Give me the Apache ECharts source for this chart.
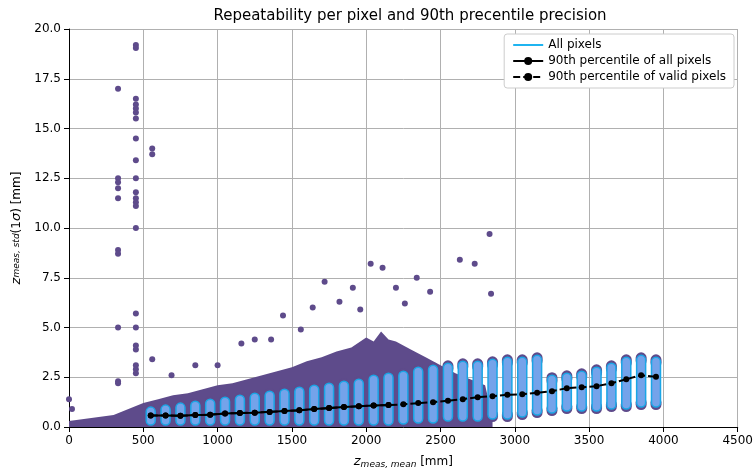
<!DOCTYPE html>
<html><head><meta charset="utf-8">
<script src="https://cdn.jsdelivr.net/npm/echarts@6/dist/echarts.min.js"></script>
<style>html,body{margin:0;background:#fff}#c{width:756px;height:474px}</style>
</head><body><div id="c"></div>
<script>
// 90th percentile curves
var pctX = [550,650,750,850,950,1050,1150,1250,1350,1450,1550,1650,1750,1850,1950,2050,2150,2250,2350,2450,2550,2650,2750,2850,2950,3050,3150,3250,3350,3450,3550,3650,3750,3850,3950];
var pctAll = [0.58,0.58,0.56,0.6,0.62,0.68,0.7,0.72,0.76,0.8,0.84,0.9,0.95,1.0,1.04,1.08,1.1,1.14,1.2,1.25,1.32,1.4,1.5,1.55,1.62,1.65,1.72,1.8,1.95,2.0,2.05,2.2,2.4,2.6,2.52];
var pctValid = pctAll;
// per-pixel columns (range of z std at each distance step)
var colLow  = [0.1,0.1,0.1,0.1,0.1,0.1,0.1,0.1,0.1,0.1,0.1,0.1,0.1,0.1,0.1,0.1,0.1,0.15,0.2,0.2,0.3,0.3,0.3,0.4,0.4,0.5,0.6,0.7,0.8,0.8,0.8,0.9,0.9,1.0,1.0];
var colHigh = [1.0,1.1,1.2,1.3,1.4,1.5,1.6,1.7,1.8,1.9,2.0,2.1,2.2,2.3,2.4,2.6,2.7,2.8,3.0,3.1,3.2,3.3,3.3,3.4,3.5,3.5,3.6,2.6,2.7,2.8,3.0,3.2,3.5,3.6,3.5];
// dense cloud upper envelope
var cloudX = [0,100,200,300,400,500,600,700,800,900,1000,1100,1200,1300,1400,1500,1600,1700,1800,1900,2000,2050,2100,2150,2200,2300,2400,2500,2600,2700,2800,2850];
var cloudY = [0.3,0.4,0.5,0.6,0.9,1.2,1.4,1.6,1.7,1.9,2.1,2.2,2.4,2.6,2.8,3.0,3.3,3.5,3.8,4.0,4.5,4.3,4.8,4.4,4.3,3.9,3.5,3.1,2.7,2.4,2.1,0.5];
// outlier pixels
var outX = [330,330,330,330,330,330,330,330,330,330,450,450,450,450,450,450,450,450,450,450,450,450,450,450,450,450,450,450,450,450,450,450,560,560,560,2030,2110,2830,2630,2730,2840,1720,1910,2200,2340,2430,1820,1640,1440,1000,850,690,1250,1160,1360,0,20,1560,1960,2260];
var outY = [17,12.5,12.3,12,11.5,8.9,8.7,5,2.3,2.2,19.2,19.05,16.5,16.2,16,15.8,15.5,14.5,13.4,12.5,11.8,11.5,11.3,11.1,10,5.7,5,4.1,3.9,3.1,2.9,2.7,14,13.7,3.4,8.2,8.0,9.7,8.4,8.2,6.7,7.3,7.0,7.0,7.5,6.8,6.3,6.0,5.6,3.1,3.1,2.6,4.4,4.2,4.4,1.4,0.9,4.9,5.9,6.2];

var purple = '#5e4b8b';
var chart = echarts.init(document.getElementById('c'));
var cols = pctX.map(function (x, k) { return [x, colLow[k], colHigh[k]]; });
var outs = outX.map(function (x, k) { return [x, outY[k]]; });
var cloud = cloudX.map(function (x, k) { return [x, cloudY[k]]; });

function drawCol(params, api) {
  var lo = api.coord([api.value(0), api.value(1)]);
  var hi = api.coord([api.value(0), api.value(2)]);
  var w = 9;
  return {type: 'group', children: [
    {type: 'rect', shape: {x: hi[0] - w / 2 - 1, y: hi[1] - 3, width: w + 2, height: 14, r: 5.5},
      style: {fill: purple}},
    {type: 'rect', shape: {x: hi[0] - w / 2 - 1, y: lo[1] - 10, width: w + 2, height: 13, r: 5.5},
      style: {fill: purple}},
    {type: 'rect', shape: {x: hi[0] - w / 2, y: hi[1], width: w, height: lo[1] - hi[1], r: 4.5},
      style: {fill: '#74a3ea', stroke: '#1aa6e6', lineWidth: 1.5}}
  ]};
}

chart.setOption({
  animation: false,
  textStyle: {fontFamily: 'DejaVu Sans'},
  title: {text: 'Repeatability per pixel and 90th precentile precision', left: 405, top: 4, textAlign: 'center',
    textStyle: {fontSize: 15, fontWeight: 'normal', color: '#000'}},
  grid: {left: 69, right: 15, top: 29, bottom: 46},
  legend: {right: 22, top: 34, orient: 'vertical', itemGap: 4, itemWidth: 30, itemHeight: 10,
    backgroundColor: '#fff', borderColor: '#ccc', borderWidth: 1, borderRadius: 3, padding: [5, 8],
    textStyle: {fontSize: 12, color: '#000'},
    data: [{name: 'All pixels', icon: 'path://M0,4 L30,4 L30,6 L0,6 Z', itemStyle: {color: '#1fb4f0'}},
           {name: '90th percentile of all pixels'},
           {name: '90th percentile of valid pixels'}]},
  xAxis: {type: 'value', min: 0, max: 4500, interval: 500,
    name: '{i|z}{s|meas, mean} [mm]', nameLocation: 'middle', nameGap: 27,
    nameTextStyle: {fontSize: 12, color: '#000', rich: {i: {fontStyle: 'italic', fontSize: 13}, s: {fontStyle: 'italic', fontSize: 9, verticalAlign: 'bottom', padding: [6,0,0,0]}}},
    axisLine: {lineStyle: {color: '#000'}}, axisTick: {lineStyle: {color: '#000'}},
    axisLabel: {color: '#000', fontSize: 12, formatter: function (v) { return String(v); }},
    splitLine: {lineStyle: {color: '#b0b0b0'}}},
  yAxis: {type: 'value', min: 0, max: 20, interval: 2.5,
    name: '{i|z}{s|meas, std}(1{i|σ}) [mm]', nameLocation: 'middle', nameGap: 40,
    nameTextStyle: {fontSize: 12, color: '#000', rich: {i: {fontStyle: 'italic', fontSize: 13}, s: {fontStyle: 'italic', fontSize: 9}}},
    axisLine: {show: true, lineStyle: {color: '#000'}}, axisTick: {show: true, lineStyle: {color: '#000'}},
    axisLabel: {color: '#000', fontSize: 12, formatter: function (v) { return v.toFixed(1); }},
    splitLine: {lineStyle: {color: '#b0b0b0'}}},
  series: [
    {name: 'cloud', type: 'line', data: cloud, symbol: 'none', lineStyle: {width: 0},
      areaStyle: {color: purple, opacity: 1}, z: 2},
    {name: 'All pixels', type: 'scatter', data: outs, symbolSize: 6, itemStyle: {color: purple, opacity: 1}, z: 3},
    {type: 'custom', data: cols, renderItem: drawCol, encode: {x: 0, y: [1, 2]}, z: 4, clip: true},
    {name: '90th percentile of all pixels', type: 'line', data: pctX.slice(0, 17).map(function (x, k) { return [x, pctAll[k]]; }),
      symbol: 'circle', symbolSize: 6, itemStyle: {color: '#000'}, lineStyle: {color: '#000', width: 2}, z: 6},
    {name: '90th percentile of valid pixels', type: 'line', data: pctX.map(function (x, k) { return [x, pctValid[k]]; }),
      symbol: 'circle', symbolSize: 6, itemStyle: {color: '#000'}, lineStyle: {color: '#000', width: 2, type: [7, 3]}, z: 5}
  ]
});
</script></body></html>
